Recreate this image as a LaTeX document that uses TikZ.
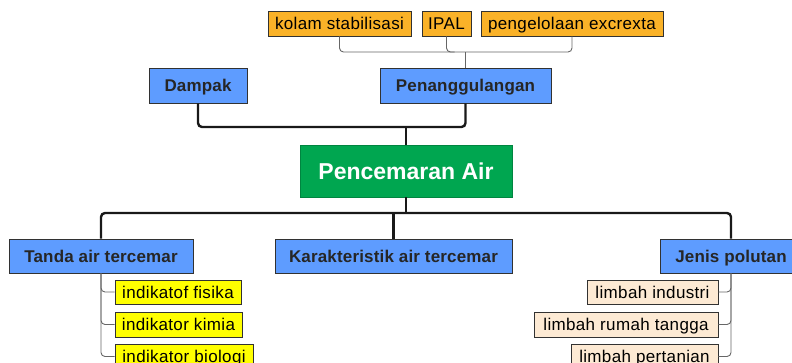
\documentclass[tikz,border=0pt]{standalone}
\usepackage{fontspec}
\setmainfont{Liberation Sans}
\newfontfamily\regf[LetterSpace=2]{Liberation Sans}
\newfontfamily\boldf[LetterSpace=1]{Liberation Sans}
\newfontfamily\bigf{Liberation Sans}
\definecolor{cblue}{RGB}{94,156,255}
\definecolor{cgreen}{RGB}{0,166,80}
\definecolor{corange}{RGB}{250,178,40}
\definecolor{cyellow}{RGB}{255,255,0}
\definecolor{cpeach}{RGB}{253,234,212}
\definecolor{cborder}{RGB}{50,50,50}
\tikzset{
  box/.style={draw=cborder, line width=0.9pt, inner sep=0pt, align=center, text height=12.6pt, text depth=0.4pt},
  mainbox/.style={box, fill=cblue, minimum height=35pt, font=\boldf\bfseries\fontsize{17}{19}\selectfont, text=black!85},
  rootbox/.style={box, draw=cgreen!80!black, fill=cgreen, minimum height=52pt, text height=17pt, text depth=0.4pt, font=\bigf\bfseries\fontsize{23}{25}\selectfont, text=white},
  orbox/.style={box, fill=corange, minimum height=25pt, font=\regf\fontsize{17}{19}\selectfont},
  yelbox/.style={box, fill=cyellow, minimum height=25pt, font=\regf\fontsize{17}{19}\selectfont},
  pchbox/.style={box, fill=cpeach, minimum height=25pt, font=\regf\fontsize{17}{19}\selectfont},
  thickline/.style={draw=black!90, line width=2.4pt, rounded corners=4pt},
  thinline/.style={draw=black!60, line width=0.9pt, rounded corners=4pt},
}
\begin{document}
\begin{tikzpicture}[x=1pt,y=-1pt]
\useasboundingbox (0,0) rectangle (792,362);
\clip (0,0) rectangle (792,362);
% top children
\node[orbox, minimum width=143pt] (kolam) at (339.5,23.5) {kolam stabilisasi};
\node[orbox, minimum width=49pt] (ipal) at (446.5,23.5) {IPAL};
\node[orbox, minimum width=182pt] (pengel) at (572,23.5) {pengelolaan excrexta};
% main nodes
\node[mainbox, minimum width=171pt] (pen) at (465.5,85.5) {Penanggulangan};
\node[mainbox, minimum width=98pt] (dampak) at (198,85.5) {Dampak};
\node[rootbox, minimum width=212pt] (root) at (406,171) {Pencemaran Air};
\node[mainbox, minimum width=184pt, minimum height=34pt] (tanda) at (101,256) {Tanda air tercemar};
\node[mainbox, minimum width=237pt, minimum height=34pt] (karak) at (393.5,256) {Karakteristik air tercemar};
\node[mainbox, minimum width=142pt, minimum height=34pt] (jenis) at (731,256) {Jenis polutan};
% left children
\node[yelbox, minimum width=126pt, minimum height=24pt] (fis) at (178,292) {indikatof fisika};
\node[yelbox, minimum width=127pt] (kim) at (178.5,324.5) {indikator kimia};
\node[yelbox, minimum width=138pt] (bio) at (184,356.5) {indikator biologi};
% right children
\node[pchbox, minimum width=131pt, minimum height=24pt] (ind) at (652.5,292) {limbah industri};
\node[pchbox, minimum width=184pt] (rt) at (626,324.5) {limbah rumah tangga};
\node[pchbox, minimum width=147pt] (tani) at (644.5,356.5) {limbah pertanian};
% junctions
\coordinate (j0) at (465,52);
\coordinate (j1) at (406,127);
\coordinate (j2) at (406,213);
% top connectors
\draw[thinline] (kolam.south) -- (kolam.south|-j0) -- (pengel.south|-j0) -- (pengel.south);
\draw[thinline] (ipal.south) -- (ipal.south|-j0) -- ([xshift=8pt]ipal.south|-j0);
\draw[thinline] (pen.north) -- (pen.north|-j0);
% upper main connectors
\draw[thickline] (dampak.south) -- (dampak.south|-j1) -- (pen.south|-j1) -- (pen.south);
\draw[thickline] (j1) -- (root.north);
% lower main connectors
\draw[thickline] (root.south) -- (j2);
\draw[thickline] (tanda.north) -- (tanda.north|-j2) -- (jenis.north|-j2) -- (jenis.north);
\draw[thickline] (karak.north|-j2) -- (karak.north);
% child connectors
\draw[thinline] (tanda.south) |- (fis.west);
\draw[thinline] (tanda.south) |- (kim.west);
\draw[thinline] (tanda.south) |- (bio.west);
\draw[thinline] (jenis.south) |- (ind.east);
\draw[thinline] (jenis.south) |- (rt.east);
\draw[thinline] (jenis.south) |- (tani.east);
\end{tikzpicture}
\end{document}
